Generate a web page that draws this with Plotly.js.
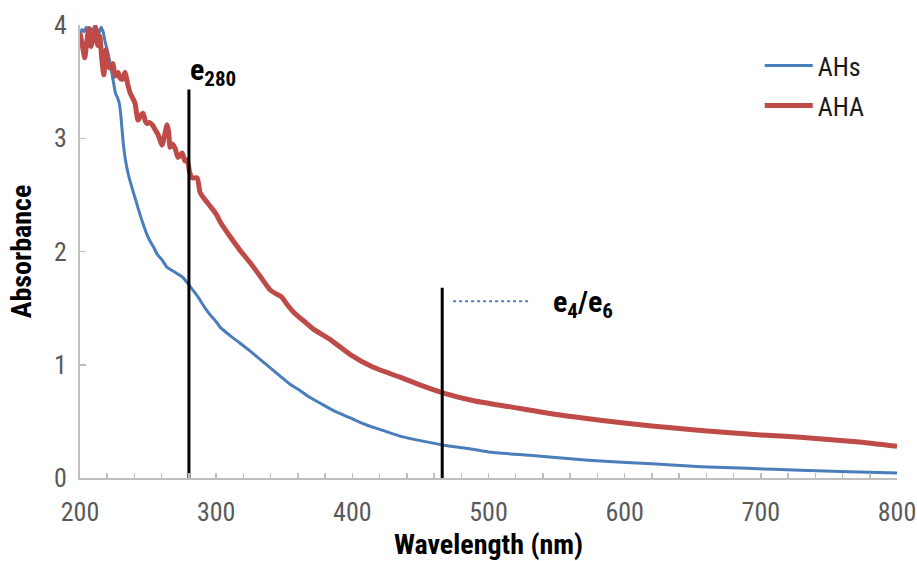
<!DOCTYPE html>
<html>
<head>
<meta charset="utf-8">
<script src="https://cdn.plot.ly/plotly-3.0.1.min.js"></script>
<style>
  html, body { margin: 0; padding: 0; background: #fff; }
  #chart { width: 917px; height: 561px; }
</style>
</head>
<body>
<div id="chart"></div>
<script>
// UV-Vis absorption spectra (wavelength in nm, absorbance)
const ahsWavelength = [200, 201.5, 203, 204.5, 206, 208, 209.5, 211, 212.5, 214, 215.5, 217, 218.5, 220, 221.5, 223, 224.5, 226, 227.5, 229, 230, 231, 232, 233.5, 235.5, 238, 241, 244, 247, 249.5, 251.5, 254, 257, 260, 264, 268, 272, 275.7, 280.9, 286, 291.9, 295.6, 300, 303, 310, 317.6, 325, 332, 340, 347, 354, 361.8, 369, 376.5, 387, 398.5, 410, 420, 435, 450, 467, 485, 500, 530, 560, 582, 620, 656, 690, 729, 765, 800];
const ahsAbsorbance = [3.92, 3.96, 3.94, 3.98, 3.93, 3.97, 3.95, 4.00, 3.96, 3.93, 3.98, 3.94, 3.85, 3.78, 3.70, 3.60, 3.50, 3.40, 3.36, 3.30, 3.20, 3.06, 2.93, 2.80, 2.68, 2.57, 2.45, 2.33, 2.22, 2.14, 2.09, 2.04, 1.97, 1.93, 1.86, 1.83, 1.80, 1.77, 1.69, 1.61, 1.50, 1.44, 1.38, 1.33, 1.26, 1.19, 1.12, 1.05, 0.97, 0.90, 0.83, 0.77, 0.71, 0.66, 0.59, 0.53, 0.47, 0.43, 0.37, 0.33, 0.29, 0.26, 0.23, 0.20, 0.17, 0.15, 0.125, 0.10, 0.085, 0.068, 0.055, 0.045];

const ahaWavelength = [200, 202, 203.5, 205, 206.5, 208, 210, 211.5, 213, 214.5, 216, 217.5, 219, 220.5, 222, 224, 226, 228, 229.4, 231, 233, 235, 236.8, 238.5, 240.4, 242.6, 244.5, 246.3, 248, 249.3, 251, 253, 255, 257.4, 260.3, 262, 264, 265.2, 266.2, 268, 269.9, 272, 275, 277, 278.7, 280.5, 282.4, 286, 288.2, 291, 295.6, 300, 303, 310.3, 317.6, 325, 332.4, 339.7, 344.9, 348, 352.2, 358, 365, 372, 384, 398.5, 415, 435, 450, 467, 490, 515, 550, 582, 620, 656, 700, 729, 770, 800];
const ahaAbsorbance = [3.93, 3.80, 3.71, 3.85, 3.97, 3.81, 3.90, 3.98, 3.82, 3.90, 3.70, 3.56, 3.78, 3.65, 3.62, 3.66, 3.55, 3.58, 3.53, 3.52, 3.58, 3.48, 3.40, 3.36, 3.31, 3.16, 3.20, 3.22, 3.15, 3.13, 3.14, 3.12, 3.08, 3.03, 2.94, 3.02, 3.12, 3.05, 2.92, 2.95, 2.91, 2.83, 2.87, 2.80, 2.81, 2.70, 2.65, 2.65, 2.52, 2.47, 2.40, 2.33, 2.26, 2.13, 2.01, 1.90, 1.78, 1.66, 1.62, 1.60, 1.53, 1.45, 1.38, 1.31, 1.22, 1.09, 0.98, 0.89, 0.82, 0.75, 0.68, 0.63, 0.56, 0.51, 0.46, 0.42, 0.38, 0.36, 0.32, 0.28];

// Marker lines for the E280 and E4/E6 wavelengths
const e280X = [280, 280];
const e280Y = [0, 3.43];
const e46X = [466, 466];
const e46Y = [0, 1.68];
const e46LeaderX = [474, 531];
const e46LeaderY = [1.56, 1.56];

const seriesNames = ['AHs', 'AHA'];
const xTickVals = [200, 300, 400, 500, 600, 700, 800];
const yTickVals = [0, 1, 2, 3, 4];

const NARROW = '"Liberation Sans Narrow", "Arial Narrow", "Roboto Condensed", sans-serif';

const traces = [
  {
    x: ahsWavelength, y: ahsAbsorbance, name: seriesNames[0], mode: 'lines',
    line: { color: '#4A7EBB', width: 3, shape: 'spline', smoothing: 0.6 }, legendgroup: 'a'
  },
  {
    x: ahaWavelength, y: ahaAbsorbance, name: seriesNames[1], mode: 'lines',
    line: { color: '#BE4B48', width: 5, shape: 'spline', smoothing: 0.6 }, legendgroup: 'b'
  },
  {
    x: e280X, y: e280Y, mode: 'lines', showlegend: false, hoverinfo: 'skip',
    line: { color: '#000000', width: 3 }
  },
  {
    x: e46X, y: e46Y, mode: 'lines', showlegend: false, hoverinfo: 'skip',
    line: { color: '#000000', width: 3 }
  },
  {
    x: e46LeaderX, y: e46LeaderY, mode: 'lines', showlegend: false, hoverinfo: 'skip',
    line: { color: '#4F81BD', width: 2, dash: 'dot' }
  }
];

const layout = {
  width: 917, height: 561,
  margin: { l: 80, r: 20, t: 25, b: 83 },
  paper_bgcolor: '#ffffff', plot_bgcolor: '#ffffff',
  showlegend: true,
  legend: {
    x: 0.832, y: 0.962, xanchor: 'left', yanchor: 'top',
    font: { family: NARROW, size: 26, color: '#1a1a1a' },
    itemwidth: 48, tracegroupgap: 3, bgcolor: 'rgba(0,0,0,0)'
  },
  xaxis: {
    range: [200, 800], tickvals: xTickVals, ticktext: xTickVals.map(String),
    showgrid: false, zeroline: false,
    showline: true, linecolor: '#bfbfbf', linewidth: 2,
    ticks: 'inside', ticklen: 5, tickwidth: 1.5, tickcolor: '#bfbfbf',
    minor: { dtick: 20, ticks: 'inside', ticklen: 5, tickwidth: 1.5, tickcolor: '#bfbfbf', showgrid: false },
    tickfont: { family: NARROW, size: 26, color: '#595959' },
    ticklabelstandoff: 10,
    title: { text: '<b>Wavelength (nm)</b>', font: { family: NARROW, size: 28, color: '#000000' }, standoff: 24 }
  },
  yaxis: {
    range: [0, 4], tickvals: yTickVals,
    showgrid: false, zeroline: false,
    showline: true, linecolor: '#bfbfbf', linewidth: 2,
    ticks: 'inside', ticklen: 6, tickwidth: 1.5, tickcolor: '#bfbfbf',
    tickfont: { family: NARROW, size: 26, color: '#595959' },
    ticklabelstandoff: 6,
    title: { text: '<b>Absorbance</b>', font: { family: NARROW, size: 28, color: '#000000' }, standoff: 14 }
  },
  annotations: [
    {
      x: 280, y: 3.43, xref: 'x', yref: 'y', xanchor: 'left', yanchor: 'bottom',
      xshift: -1, yshift: -3, showarrow: false,
      text: '<b>e<sub>280</sub></b>',
      font: { family: NARROW, size: 30, color: '#000000' }
    },
    {
      x: 540, y: 1.56, xref: 'x', yref: 'y', xanchor: 'left', yanchor: 'middle',
      xshift: 8, yshift: -2, showarrow: false,
      text: '<b>e<sub>4</sub>/e<sub>6</sub></b>',
      font: { family: NARROW, size: 30, color: '#000000' }
    }
  ]
};

Plotly.newPlot('chart', traces, layout, { displayModeBar: false, staticPlot: true });
</script>
</body>
</html>
